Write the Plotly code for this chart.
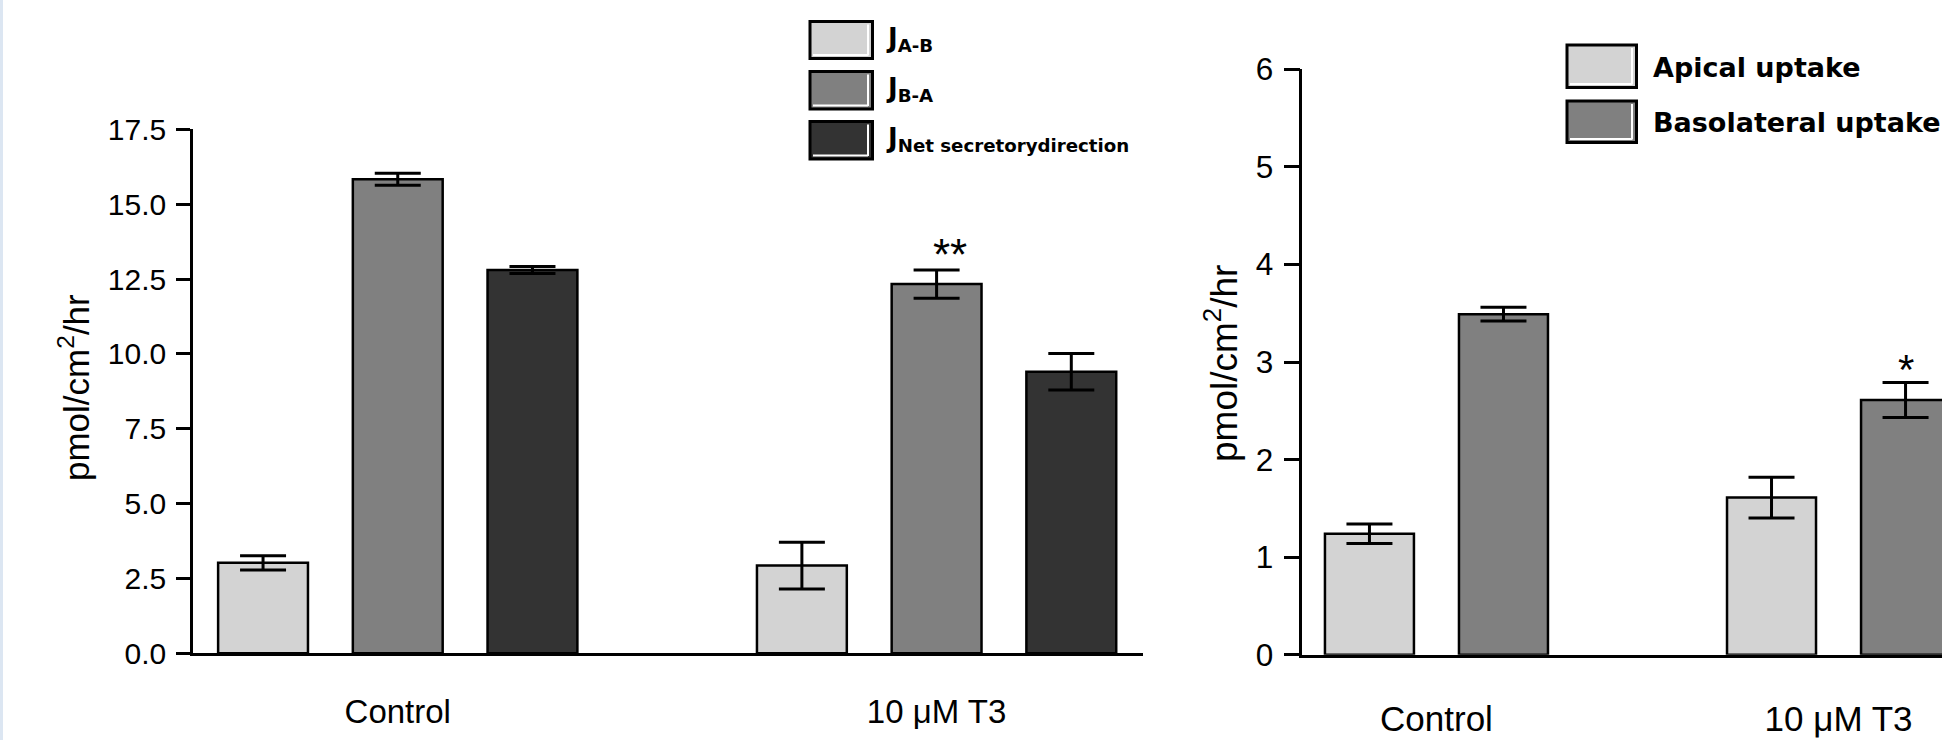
import plotly.graph_objects as go

# ---------------- data ----------------
categories = ["Control", "10 μM T3"]

# left panel: fluxes (pmol/cm2/hr)
flux_series = ["J<sub>A-B</sub>", "J<sub>B-A</sub>", "J<sub>Net secretorydirection</sub>"]
flux_values = [[3.02, 2.93], [15.83, 12.33], [12.80, 9.40]]
flux_errors = [[0.24, 0.78], [0.20, 0.47], [0.12, 0.61]]
flux_colors = ["#d3d3d3", "#808080", "#333333"]
flux_ticks = [0, 2.5, 5, 7.5, 10, 12.5, 15, 17.5]
flux_signif = ["", "**"]  # for J B-A

# right panel: uptake (pmol/cm2/hr)
uptake_series = ["Apical uptake", "Basolateral uptake"]
uptake_values = [[1.24, 1.61], [3.49, 2.61]]
uptake_errors = [[0.10, 0.21], [0.07, 0.18]]
uptake_colors = ["#d3d3d3", "#808080"]
uptake_ticks = [0, 1, 2, 3, 4, 5, 6]
uptake_signif = ["", "*"]  # for basolateral

FONT = "Liberation Sans, Arial, Helvetica, sans-serif"
LEGFONT = "DejaVu Sans, Liberation Sans, Arial, sans-serif"
W, H = 1942, 740

def px(x):
    return x / W

def py(y):
    return 1 - y / H

fig = go.Figure()

# ---- left panel bars ----
nL = len(flux_series)
for i, (name, vals, errs, col) in enumerate(zip(flux_series, flux_values, flux_errors, flux_colors)):
    xs = [g * (nL + 1) + i for g in range(len(categories))]
    fig.add_trace(go.Bar(
        x=xs, y=vals, name=name, width=0.667,
        marker=dict(color=col, line=dict(color="black", width=2.5)),
        error_y=dict(type="data", array=errs, visible=True, color="black", thickness=3, width=23),
        xaxis="x", yaxis="y", showlegend=False,
    ))

# ---- right panel bars ----
nR = len(uptake_series)
for i, (name, vals, errs, col) in enumerate(zip(uptake_series, uptake_values, uptake_errors, uptake_colors)):
    xs = [g * (nR + 1) + i for g in range(len(categories))]
    fig.add_trace(go.Bar(
        x=xs, y=vals, name=name, width=0.664,
        marker=dict(color=col, line=dict(color="black", width=2.5)),
        error_y=dict(type="data", array=errs, visible=True, color="black", thickness=3, width=23),
        xaxis="x2", yaxis="y2", showlegend=False,
    ))

annotations = []
shapes = []

# significance marks
for g, s in enumerate(flux_signif):
    if s:
        annotations.append(dict(x=g * (nL + 1) + 1 + 0.1, y=flux_values[1][g] + flux_errors[1][g],
                                xref="x", yref="y", text=s, showarrow=False, yanchor="bottom",
                                yshift=-11, font=dict(family=FONT, size=44, color="black")))
for g, s in enumerate(uptake_signif):
    if s:
        annotations.append(dict(x=g * (nR + 1) + 1, y=uptake_values[1][g] + uptake_errors[1][g],
                                xref="x2", yref="y2", text=s, showarrow=False, yanchor="bottom",
                                yshift=-13, font=dict(family=FONT, size=42, color="black")))

# axis titles
annotations.append(dict(x=px(74), y=py(388), xref="paper", yref="paper", text="pmol/cm<sup>2</sup>/hr",
                        textangle=-90, showarrow=False, xanchor="center", yanchor="middle",
                        font=dict(family=FONT, size=35, color="black")))
annotations.append(dict(x=px(1221), y=py(364), xref="paper", yref="paper", text="pmol/cm<sup>2</sup>/hr",
                        textangle=-90, showarrow=False, xanchor="center", yanchor="middle",
                        font=dict(family=FONT, size=37, color="black")))

# custom legends (swatches)
def legend_box(x0, y0, x1, y1, color):
    shapes.append(dict(type="rect", xref="paper", yref="paper", x0=px(x0), x1=px(x1), y0=py(y1), y1=py(y0),
                       fillcolor=color, line=dict(color="black", width=3), layer="above"))
    shapes.append(dict(type="line", xref="paper", yref="paper", x0=px(x1 - 4.5), x1=px(x1 - 4.5),
                       y0=py(y1 - 3), y1=py(y0 + 3), line=dict(color="white", width=2), layer="above"))
    shapes.append(dict(type="line", xref="paper", yref="paper", x0=px(x0 + 3), x1=px(x1 - 4.5),
                       y0=py(y1 - 3.5), y1=py(y1 - 3.5), line=dict(color="white", width=2), layer="above"))

left_leg_y = [(21.5, 58.5), (71.5, 109), (121.5, 159)]
for (y0, y1), col, name in zip(left_leg_y, flux_colors, flux_series):
    legend_box(810, y0, 872.5, y1, col)
    annotations.append(dict(x=px(884), y=py((y0 + y1) / 2 - 1), xref="paper", yref="paper", text="<b>%s</b>" % name,
                            showarrow=False, xanchor="left", yanchor="middle",
                            font=dict(family=LEGFONT, size=26, color="black")))

right_leg_y = [(45, 87.5), (101, 142.5)]
for (y0, y1), col, name in zip(right_leg_y, uptake_colors, uptake_series):
    legend_box(1567, y0, 1636.5, y1, col)
    annotations.append(dict(x=px(1651), y=py((y0 + y1) / 2 + 1), xref="paper", yref="paper", text="<b>%s</b>" % name,
                            showarrow=False, xanchor="left", yanchor="middle",
                            font=dict(family=LEGFONT, size=27, color="black")))

# left light-blue page edge
shapes.append(dict(type="rect", xref="paper", yref="paper", x0=0, x1=px(3), y0=0, y1=1,
                   fillcolor="#dce6f2", line=dict(width=0), layer="below"))

axis_common = dict(showgrid=False, zeroline=False, showline=True, linecolor="black", linewidth=2.5,
                   automargin=False)

fig.update_layout(
    template="none",
    width=W, height=H,
    margin=dict(l=0, r=0, t=0, b=0, pad=0, autoexpand=False),
    paper_bgcolor="white", plot_bgcolor="white",
    barmode="overlay",
    font=dict(family=FONT, color="black"),
    xaxis=dict(domain=[px(193), px(1142.7)], range=[-0.52, 6.53], anchor="y",
               tickvals=[g * (nL + 1) + (nL - 1) / 2 for g in range(len(categories))], ticktext=categories,
               ticks="", tickfont=dict(size=33, family=FONT, color="black"), ticklabelstandoff=27,
               **axis_common),
    yaxis=dict(domain=[py(653.3), py(129.3)], range=[0, 17.5], anchor="x",
               tickvals=flux_ticks, tickformat=".1f", ticks="outside", ticklen=14, tickwidth=2.5,
               tickcolor="black", tickfont=dict(size=30, family=FONT, color="black"), ticklabelstandoff=4,
               **axis_common),
    xaxis2=dict(domain=[px(1302.3), 1.0], range=[-0.501, 4.272], anchor="y2",
                tickvals=[g * (nR + 1) + (nR - 1) / 2 for g in range(len(categories))], ticktext=categories,
                ticks="", tickfont=dict(size=35, family=FONT, color="black"), ticklabelstandoff=32,
                **axis_common),
    yaxis2=dict(domain=[py(654.7), py(69.3)], range=[0, 6], anchor="x2",
                tickvals=uptake_ticks, ticks="outside", ticklen=16, tickwidth=2.5,
                tickcolor="black", tickfont=dict(size=31.5, family=FONT, color="black"), ticklabelstandoff=4,
                **axis_common),
    annotations=annotations,
    shapes=shapes,
)

fig.write_html(
    "out.html",
    config={"displayModeBar": False},
    post_script="document.body.style.margin='0';document.body.style.padding='0';"
                "document.documentElement.style.overflow='hidden';",
)
